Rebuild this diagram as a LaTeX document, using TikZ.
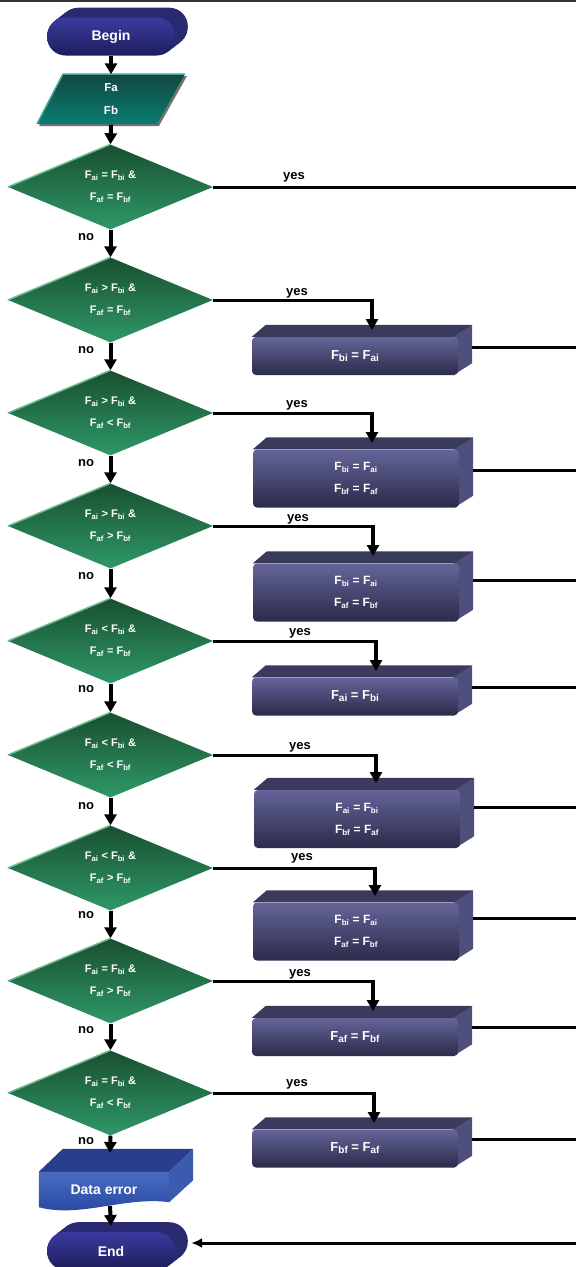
\documentclass[tikz,border=0pt]{standalone}
\usepackage{fontspec}
\setmainfont{Liberation Sans}
\usetikzlibrary{shapes.geometric,arrows.meta,calc}
\pgfdeclarelayer{background}
\pgfsetlayers{background,main}
\definecolor{termtop}{HTML}{3B3BA0}
\definecolor{termbot}{HTML}{1D1D5C}
\definecolor{termback}{HTML}{2A2A70}
\definecolor{iotop}{HTML}{114840}
\definecolor{iobot}{HTML}{0A7C72}
\definecolor{ioedge}{HTML}{3FA596}
\definecolor{dtop}{HTML}{19502F}
\definecolor{dbot}{HTML}{2F9868}
\definecolor{dedge}{HTML}{6CBB8C}
\definecolor{btop}{HTML}{64649A}
\definecolor{bbot}{HTML}{2B2B4A}
\definecolor{bface}{HTML}{3A3A5C}
\definecolor{bside}{HTML}{4F4F7C}
\definecolor{etop}{HTML}{4A6CC0}
\definecolor{ebot}{HTML}{2343A0}
\definecolor{eface}{HTML}{283F8E}
\definecolor{eside}{HTML}{3A5BAE}
\newcommand\bigsub[1]{\raisebox{-2pt}{\fontsize{10}{10}\selectfont #1}}
\begin{document}
\begin{tikzpicture}[x=1pt,y=-1pt,
  term/.style={rectangle, rounded corners=18.5pt, minimum width=128pt, minimum height=38pt, inner sep=0pt, top color=termtop, bottom color=termbot, text=white, font=\bfseries\fontsize{14}{14}\selectfont},
  dec/.style={diamond, aspect=2.4, minimum width=205pt, minimum height=85pt, inner sep=0pt, top color=dtop, bottom color=dbot, text=white, align=center, font=\bfseries\fontsize{11}{22}\selectfont},
  proc/.style={rectangle, rounded corners=4pt, minimum width=206pt, inner sep=0pt, top color=btop, bottom color=bbot, text=white, align=center, font=\bfseries\fontsize{12}{22}\selectfont},
  oneline/.style={minimum height=38pt, font=\bfseries\fontsize{13}{13}\selectfont},
  twoline/.style={minimum height=58pt},
  lbl/.style={inner sep=0pt, anchor=base, text=black, font=\bfseries\fontsize{13}{13}\selectfont},
  flow/.style={line width=4pt, -{Triangle[width=12pt,length=11pt]}},
  hline/.style={line width=3pt},
  inarrow/.style={line width=3pt, -{Latex[width=10pt,length=11pt]}},
]
\useasboundingbox (0,0) rectangle (576,1267);
\draw[line width=1.5pt, black!80] (0,0.75) -- (576,0.75);

% terminators and input
\node[term] (begin) at (111,36.5) {Begin};
\node[inner sep=0pt, minimum width=120pt, minimum height=50pt, text=white, align=center, font=\bfseries\fontsize{11.5}{23}\selectfont] (io) at (111,99.5) {Fa\\Fb};

% decisions
\node[dec] (d1) at (110.5,187) {F\textsubscript{ai} = F\textsubscript{bi} \&\\F\textsubscript{af} = F\textsubscript{bf}};
\node[dec] (d2) at (110.5,300) {F\textsubscript{ai} > F\textsubscript{bi} \&\\F\textsubscript{af} = F\textsubscript{bf}};
\node[dec] (d3) at (110.5,413) {F\textsubscript{ai} > F\textsubscript{bi} \&\\F\textsubscript{af} < F\textsubscript{bf}};
\node[dec] (d4) at (110.5,526) {F\textsubscript{ai} > F\textsubscript{bi} \&\\F\textsubscript{af} > F\textsubscript{bf}};
\node[dec] (d5) at (110.5,641) {F\textsubscript{ai} < F\textsubscript{bi} \&\\F\textsubscript{af} = F\textsubscript{bf}};
\node[dec] (d6) at (110.5,755) {F\textsubscript{ai} < F\textsubscript{bi} \&\\F\textsubscript{af} < F\textsubscript{bf}};
\node[dec] (d7) at (110.5,868) {F\textsubscript{ai} < F\textsubscript{bi} \&\\F\textsubscript{af} > F\textsubscript{bf}};
\node[dec] (d8) at (110.5,981) {F\textsubscript{ai} = F\textsubscript{bi} \&\\F\textsubscript{af} > F\textsubscript{bf}};
\node[dec] (d9) at (110.5,1093) {F\textsubscript{ai} = F\textsubscript{bi} \&\\F\textsubscript{af} < F\textsubscript{bf}};
\foreach \d in {d1,d2,d3,d4,d5,d6,d7,d8,d9}
  \draw[dedge, line width=1.5pt] (\d.west) -- (\d.north);

% processes
\node[proc,oneline] (b1) at (355,356) {F\bigsub{bi} = F\bigsub{ai}};
\node[proc,twoline] (b2) at (356,478.5) {F\textsubscript{bi} = F\textsubscript{ai}\\F\textsubscript{bf} = F\textsubscript{af}};
\node[proc,twoline] (b3) at (356,592.5) {F\textsubscript{bi} = F\textsubscript{ai}\\F\textsubscript{af} = F\textsubscript{bf}};
\node[proc,oneline] (b4) at (355,696.5) {F\bigsub{ai} = F\bigsub{bi}};
\node[proc,twoline] (b5) at (357,819) {F\textsubscript{ai} = F\textsubscript{bi}\\F\textsubscript{bf} = F\textsubscript{af}};
\node[proc,twoline] (b6) at (356,931.5) {F\textsubscript{bi} = F\textsubscript{ai}\\F\textsubscript{af} = F\textsubscript{bf}};
\node[proc,oneline] (b7) at (355,1037) {F\bigsub{af} = F\bigsub{bf}};
\node[proc,oneline] (b8) at (355,1148.5) {F\bigsub{bf} = F\bigsub{af}};

% error and end
\node[inner sep=0pt, minimum width=130pt, minimum height=36pt, text=white, font=\bfseries\fontsize{14}{14}\selectfont] (err) at (104,1190) {Data error};
\node[term] (end) at (111,1251) {End};

% background faces
\begin{pgfonlayer}{background}
  \foreach \k in {1,...,13} {
    \fill[termback, rounded corners=18.5pt] ($(begin.south west)+(\k,-\k*10/13)$) rectangle ++(128,-38);
    \fill[termback, rounded corners=18.5pt] ($(end.south west)+(\k,-\k*10/13)$) rectangle ++(128,-38);
  }
  \fill[black!55] (65,76) -- (187,76) -- (159,126) -- (39,126) -- cycle;
  \shade[top color=iotop, bottom color=iobot] (63,74) -- (185,74) -- (157,124) -- (37,124) -- cycle;
  \draw[ioedge, line width=1.5pt] (37,124) -- (63,74) -- (185,74);
  \foreach \b in {b1,b2,b3,b4,b5,b6,b7,b8} {
    \fill[bface] (\b.north west) -- ++(14,-12) -- ($(\b.north east)+(14,-12)$) -- (\b.north east) -- cycle;
    \fill[bside] ($(\b.north east)+(-5,0)$) -- ($(\b.north east)+(14,-12)$) -- ($(\b.south east)+(14,-12)$) -- ($(\b.south east)+(-5,0)$) -- cycle;
  }
  \fill[eface] (err.north west) -- ++(24,-23) -- ($(err.north east)+(24,-23)$) -- (err.north east) -- cycle;
  \fill[eside] (err.north east) -- ($(err.north east)+(24,-23)$) -- ($(err.south east)+(24,-28)$) -- ($(err.south east)+(0,-6)$) -- cycle;
  \shade[top color=etop, bottom color=ebot] (err.north west) -- (err.north east) -- ($(err.south east)+(0,-6)$)
     .. controls ($(err.south east)+(-44,-12)$) and ($(err.south west)+(41,10)$) .. ($(err.south west)+(0,-1)$) -- cycle;
\end{pgfonlayer}

% coordinates
\coordinate (t1) at (372,330);
\coordinate (t2) at (372,443);
\coordinate (t3) at (373,556);
\coordinate (t4) at (376,671);
\coordinate (t5) at (376,783);
\coordinate (t6) at (375,896);
\coordinate (t7) at (373,1011);
\coordinate (t8) at (374,1123);
\coordinate (r0) at (576,187);
\coordinate (r1) at (576,347);
\coordinate (r2) at (576,470);
\coordinate (r3) at (576,580);
\coordinate (r4) at (576,687);
\coordinate (r5) at (576,807);
\coordinate (r6) at (576,918);
\coordinate (r7) at (576,1027);
\coordinate (r8) at (576,1139);
\coordinate (rE) at (576,1243);
\coordinate (errin) at (110,1153);
\coordinate (errout) at (110,1206);
\coordinate (endin) at (111,1226);

% main flow
\draw[flow] (begin.south) -- (io.north);
\draw[flow] (io.south) -- (d1.north);
\foreach \a/\b in {d1/d2,d2/d3,d3/d4,d4/d5,d5/d6,d6/d7,d7/d8,d8/d9}
  \draw[flow] (\a.south) -- (\b.north);
\draw[flow] (d9.south) -- (errin);
\draw[flow] (errout) -- (endin);

% yes branches
\draw[hline] (d1.east) -- (r0);
\foreach \d/\t in {d2/t1,d3/t2,d4/t3,d5/t4,d6/t5,d7/t6,d8/t7,d9/t8} {
  \draw[hline] (\d.east) -- (\d.east -| \t);
  \draw[flow] ($(\d.east -| \t)+(0,-1.5)$) -- (\t);
}
\foreach \b/\r in {b1/r1,b2/r2,b3/r3,b4/r4,b5/r5,b6/r6,b7/r7,b8/r8} {
  \path (\b.east) ++(14,0) coordinate (bx);
  \draw[hline] (bx |- \r) -- (\r);
}
\path (end.east) ++(16,0) coordinate (ex);
\draw[inarrow] (rE) -- (ex |- rE);

% labels
\node[lbl] (y1) at (294,179) {yes};
\node[lbl] (y2) at (297,295) {yes};
\node[lbl] (y3) at (297,407) {yes};
\node[lbl] (y4) at (298,521) {yes};
\node[lbl] (y5) at (300,635) {yes};
\node[lbl] (y6) at (300,749) {yes};
\node[lbl] (y7) at (302,860) {yes};
\node[lbl] (y8) at (300,976) {yes};
\node[lbl] (y9) at (297,1086) {yes};
\node[lbl] (n1) at (86,240) {no};
\node[lbl] (n2) at (86,353) {no};
\node[lbl] (n3) at (86,466) {no};
\node[lbl] (n4) at (86,579) {no};
\node[lbl] (n5) at (86,692) {no};
\node[lbl] (n6) at (86,809) {no};
\node[lbl] (n7) at (86,918) {no};
\node[lbl] (n8) at (86,1033) {no};
\node[lbl] (n9) at (86,1144) {no};
\end{tikzpicture}
\end{document}
